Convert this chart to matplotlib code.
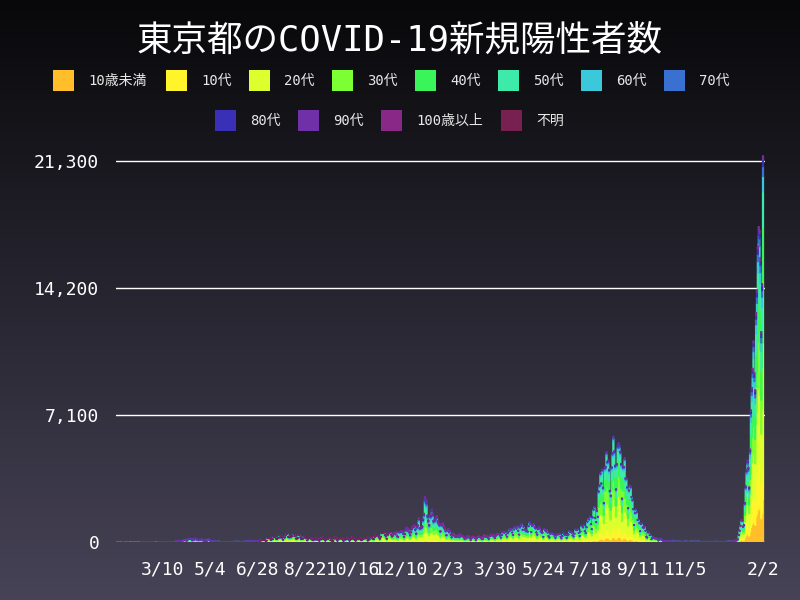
import numpy as np
import pandas as pd
import matplotlib
matplotlib.use('Agg')
import matplotlib.pyplot as plt
from matplotlib.patches import Rectangle

FONT = ['DejaVu Sans Mono', 'Noto Sans CJK JP']
plt.rcParams['font.family'] = FONT

title = '東京都のCOVID-19新規陽性者数'
age_labels = ['10歳未満', '10代', '20代', '30代', '40代', '50代',
              '60代', '70代', '80代', '90代', '100歳以上', '不明']
colors = ['#FFBE2A', '#FFF52A', '#DCFF2D', '#7CFF33', '#3AF55A', '#3EEAAA',
          '#3AC8DA', '#3A70D0', '#3A30B8', '#7030A8', '#8A2888', '#782050']

# daily new cases (Tokyo), read/estimated from the chart
d2020_01 = [1, 1, 0, 0, 0, 0, 1, 0]
d2020_02 = [0, 0, 0, 0, 0, 0, 0, 0, 0, 0, 0, 0, 1, 2, 8, 5, 0, 3, 3, 3, 3, 2, 1, 1, 0, 3, 2, 1, 0]
d2020_03 = [1, 0, 0, 3, 8, 6, 1, 3, 2, 2, 2, 2, 2, 5, 3, 1, 7, 1, 5, 11, 7, 3, 16, 17, 41, 47, 40, 63, 68, 13, 78]
d2020_04 = [66, 97, 89, 116, 143, 83, 80, 144, 178, 189, 197, 166, 91, 161, 127, 149, 201, 181, 107, 102,
            123, 132, 134, 161, 103, 72, 39, 112, 47, 46]
d2020_05 = [165, 160, 91, 87, 58, 38, 23, 39, 36, 22, 15, 28, 10, 30, 9, 14, 5, 10, 3, 5,
            11, 3, 2, 14, 8, 21, 11, 15, 22, 14, 5]
d2020_06 = [13, 34, 12, 28, 20, 26, 14, 13, 12, 18, 22, 25, 24, 47, 48, 27, 16, 41, 35, 39,
            29, 48, 31, 55, 48, 54, 57, 60, 58, 54]
d2020_07 = [67, 107, 124, 131, 111, 102, 75, 75, 224, 243, 206, 206, 119, 143, 165, 286, 293, 290, 188, 168,
            237, 238, 366, 260, 295, 239, 131, 266, 250, 367, 463]
d2020_08 = [472, 292, 258, 309, 263, 360, 331, 462, 429, 331, 197, 188, 222, 389, 385, 260, 161, 207, 186, 339,
            258, 247, 212, 95, 182, 236, 250, 226, 148, 148, 100]
d2020_09 = [170, 141, 211, 141, 181, 116, 77, 170, 149, 276, 187, 181, 146, 80, 191, 163, 167, 220, 218, 98,
            88, 60, 59, 195, 270, 218, 145, 78, 191, 194]
d2020_10 = [235, 196, 207, 143, 65, 178, 141, 150, 187, 249, 146, 78, 166, 176, 284, 184, 235, 124, 78, 139,
            186, 185, 186, 203, 124, 102, 158, 171, 221, 215, 203]
d2020_11 = [209, 87, 122, 150, 269, 242, 294, 189, 157, 293, 317, 393, 374, 352, 255, 180, 298, 493, 534, 522,
            539, 391, 314, 186, 401, 481, 570, 561, 418, 311]
d2020_12 = [372, 500, 533, 449, 584, 327, 299, 572, 572, 602, 595, 621, 480, 305, 460, 678, 822, 664, 736, 556,
            392, 563, 748, 888, 884, 949, 708, 481, 856, 944, 1337]
d2021_01 = [783, 814, 816, 884, 1278, 1591, 2520, 2392, 2268, 1494, 1219, 970, 1502, 1502, 1809, 1592, 1204, 1240,
            1274, 1383, 1471, 1175, 1070, 986, 618, 1026, 973, 1064, 868, 769, 633]
d2021_02 = [393, 676, 734, 577, 639, 429, 276, 412, 491, 369, 307, 370, 295, 371, 378, 275, 445, 353, 353, 327,
            272, 178, 236, 213, 340, 270, 329, 232]
d2021_03 = [121, 232, 316, 279, 301, 237, 116, 213, 290, 335, 304, 293, 239, 175, 178, 300, 409, 323, 303, 342,
            256, 187, 337, 420, 394, 376, 430, 313, 234, 364, 414]
d2021_04 = [475, 440, 446, 355, 249, 399, 555, 545, 537, 570, 421, 306, 510, 591, 729, 667, 759, 543, 405, 711,
            843, 861, 759, 876, 635, 425, 828, 925, 1027, 698]
d2021_05 = [879, 708, 708, 609, 621, 591, 907, 1121, 1032, 573, 925, 969, 1010, 854, 772, 542, 419, 732, 843, 766,
            618, 542, 535, 295, 743, 689, 614, 684, 539, 340, 258]
d2021_06 = [471, 487, 508, 472, 436, 351, 235, 369, 440, 439, 435, 467, 304, 209, 337, 501, 452, 388, 388, 236,
            376, 435, 619, 570, 562, 534, 386, 317, 476, 714]
d2021_07 = [673, 660, 716, 518, 342, 593, 920, 896, 822, 950, 614, 502, 830, 1149, 1308, 1271, 1410, 1008, 727, 1387,
            1832, 1979, 1359, 1128, 1763, 1429, 2848, 3177, 3865, 3300, 4058]
d2021_08 = [3058, 2195, 4166, 4228, 5042, 4515, 4566, 4066, 2884, 2612, 4200, 4989, 5908, 5094, 4295, 2962, 4377,
            5386, 5534, 5405, 5074, 4392, 2447, 4220, 4228, 4704, 3581, 3581, 3081, 1915, 2909]
d2021_09 = [3168, 3099, 2539, 2362, 1853, 968, 1629, 1834, 1675, 1242, 1273, 1067, 611, 1004, 1052, 831, 782, 862,
            635, 302, 253, 537, 531, 383, 382, 154, 248, 267, 218, 200]
d2021_10 = [196, 200, 161, 87, 144, 149, 143, 138, 82, 60, 49, 77, 77, 62, 72, 66, 40, 29, 36, 36,
            26, 26, 32, 19, 17, 29, 36, 21, 23, 22, 9]
d2021_11 = [9, 18, 29, 19, 27, 22, 20, 10, 25, 21, 26, 24, 26, 24, 7, 24, 21, 20, 24, 26,
            13, 7, 5, 19, 10, 17, 20, 5, 9, 21]
d2021_12 = [13, 19, 20, 15, 16, 10, 16, 21, 12, 24, 16, 14, 14, 21, 17, 20, 11, 15, 13, 11,
            16, 22, 37, 26, 30, 21, 15, 34, 76, 64, 78]
d2022_01 = [79, 84, 103, 151, 390, 641, 922, 1224, 1223, 871, 962, 2198, 3124, 4051, 4561, 4172, 3067, 5185, 7377,
            8638, 9699, 11227, 9468, 8503, 12813, 14086, 16538, 17631, 17433, 15895, 11751]
d2022_02 = [14445, 21576]

# age composition (%) per period, estimated from the colours of the stacks
period_starts = ['2020-01-24', '2020-07-01', '2020-12-01', '2021-04-01', '2021-07-01', '2022-01-01']
share_p0 = [2, 4, 25, 20, 16, 14, 8, 6, 4, 1, 0, 0]
share_p1 = [3, 7, 38, 21, 13, 9, 4, 2.5, 1.8, 0.6, 0, 0.1]
share_p2 = [3, 7, 26, 18, 15, 13, 7, 5, 4, 1.8, 0.05, 0]
share_p3 = [4, 9, 32, 19, 15, 11, 4.5, 2.5, 2, 0.8, 0, 0]
share_p4 = [5, 11, 31, 21, 16, 10, 3, 1.6, 0.9, 0.4, 0, 0]
share_p5 = [11, 16, 24, 16, 14, 9, 4, 2.5, 1.8, 0.9, 0.02, 0]

y_ticks = [0, 7100, 14200, 21300]

# ---------------------------------------------------------------------------
totals = np.array(d2020_01 + d2020_02 + d2020_03 + d2020_04 + d2020_05 + d2020_06 +
                  d2020_07 + d2020_08 + d2020_09 + d2020_10 + d2020_11 + d2020_12 +
                  d2021_01 + d2021_02 + d2021_03 + d2021_04 + d2021_05 + d2021_06 +
                  d2021_07 + d2021_08 + d2021_09 + d2021_10 + d2021_11 + d2021_12 +
                  d2022_01 + d2022_02, dtype=float)
n = len(totals)
dates = pd.date_range('2020-01-24', periods=n, freq='D')

pstarts = pd.to_datetime(period_starts).values
pidx = np.searchsorted(pstarts, dates.values, side='right') - 1
share_tab = np.array([share_p0, share_p1, share_p2, share_p3, share_p4, share_p5], dtype=float)
shares = share_tab[pidx]
shares = shares / shares.sum(axis=1, keepdims=True)
series = totals[:, None] * shares

# ---------------------------------------------------------------------------
W, H = 800, 600
fig = plt.figure(figsize=(8, 6), dpi=100)

# gradient background
bg = fig.add_axes([0, 0, 1, 1], zorder=-10)
top = np.array([8, 8, 10]) / 255.0
bot = np.array([71, 67, 87]) / 255.0
t = np.linspace(0, 1, 300)[:, None]
grad = (top[None, :] * (1 - t) + bot[None, :] * t)[:, None, :]
bg.imshow(grad, aspect='auto', extent=[0, 1, 0, 1], origin='upper')
bg.set_axis_off()

ax = fig.add_axes([116 / W, 1 - 542 / H, (765 - 116) / W, (542 - 148.5) / H])
ax.patch.set_alpha(0)

x = np.arange(n)
bottom = np.zeros(n)
for i in range(len(age_labels)):
    v = series[:, i]
    m = v > 0
    bars = ax.bar(x[m], v[m], bottom=bottom[m], width=1.0, color=colors[i],
                  edgecolor=colors[i], linewidth=1.0, zorder=3)
    for b in bars:
        b.set_snap(False)
    bottom += v

ax.set_xlim(-8.1, n - 1 + 2.3)
ax.set_ylim(0, 22000)
ax.set_yticks(y_ticks)
ax.set_yticklabels([f'{v:,}' for v in y_ticks])
ax.yaxis.grid(True, color='white', linewidth=1.0, zorder=0)
ax.set_axisbelow(True)

xt = [46 + 55 * k for k in range(12)] + [n - 1]
ax.set_xticks(xt)
ax.set_xticklabels([f'{dates[i].month}/{dates[i].day}' for i in xt])

ax.tick_params(axis='y', length=0, pad=12, labelsize=13, labelcolor='white')
ax.tick_params(axis='x', length=0, pad=13, labelsize=13, labelcolor='white')
for s in ax.spines.values():
    s.set_visible(False)

# title
fig.text(400 / W, 1 - 40 / H, title, color='white', fontsize=25.6,
         ha='center', va='center', family=FONT)

# legend (manual, two centred rows)
row1_x = [53, 166, 249, 332, 415, 498, 581, 664]
row2_x = [215, 298, 381, 501]
pos = [(xx, 70) for xx in row1_x] + [(xx, 110) for xx in row2_x]
for (bx, by), lab, c in zip(pos, age_labels, colors):
    fig.patches.append(Rectangle((bx / W, 1 - (by + 21) / H), 21 / W, 21 / H,
                                 transform=fig.transFigure, facecolor=c,
                                 edgecolor='none', figure=fig))
    fig.text((bx + 35) / W, 1 - (by + 11) / H, lab, color='#e8e8e8', fontsize=10,
             ha='left', va='center', family=FONT)

fig.savefig('out.png', dpi=100)
